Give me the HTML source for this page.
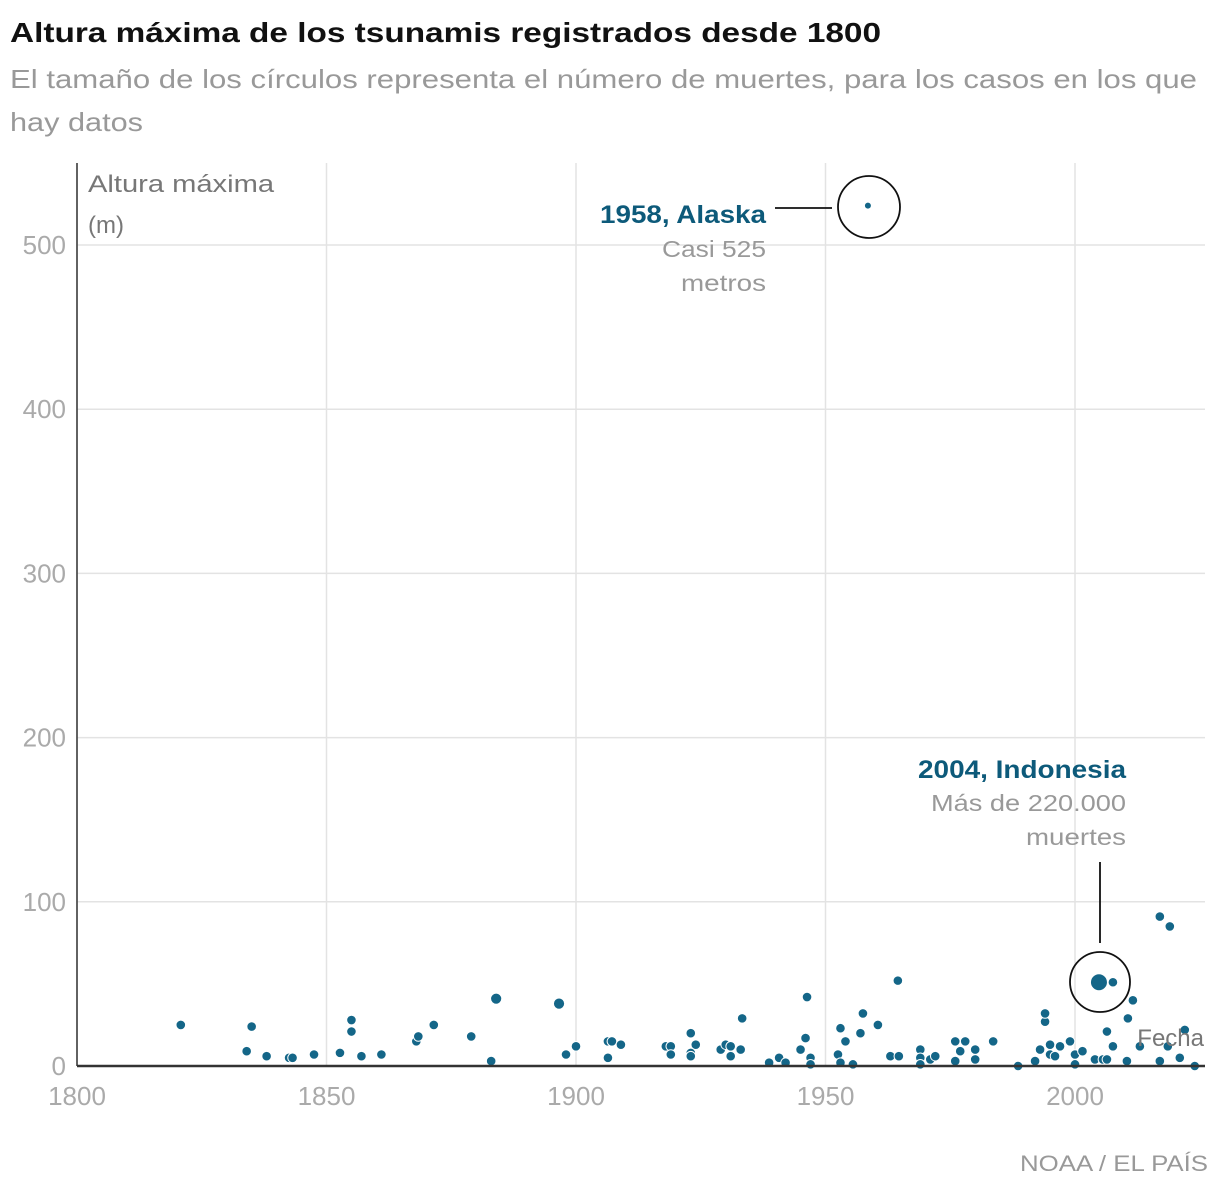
<!DOCTYPE html>
<html><head><meta charset="utf-8">
<style>
body{margin:0;background:#fff;width:1220px;height:1192px;overflow:hidden;font-family:"Liberation Sans",sans-serif}
svg{position:absolute;left:0;top:0}
</style></head>
<body>
<svg width="1220" height="1192">
<text x="10" y="42" font-size="28" font-weight="bold" fill="#111" textLength="871" lengthAdjust="spacingAndGlyphs">Altura máxima de los tsunamis registrados desde 1800</text>
<text x="10" y="88" font-size="26" fill="#999" textLength="1187" lengthAdjust="spacingAndGlyphs">El tamaño de los círculos representa el número de muertes, para los casos en los que</text>
<text x="10" y="131" font-size="26" fill="#999" textLength="133" lengthAdjust="spacingAndGlyphs">hay datos</text>
<g id="grid"></g>
<g id="marks"></g>
<line x1="77" y1="163" x2="77" y2="1066" stroke="#333" stroke-width="1.5"/>
<line x1="77" y1="1066" x2="1205" y2="1066" stroke="#333" stroke-width="2.5"/>
<text x="88" y="192" font-size="24" fill="#777" textLength="186" lengthAdjust="spacingAndGlyphs">Altura máxima</text>
<text x="88" y="233" font-size="24" fill="#777">(m)</text>
<text x="1204" y="1046" font-size="24" fill="#777" text-anchor="end">Fecha</text>
<circle cx="869" cy="207" r="31" fill="none" stroke="#111" stroke-width="1.8"/>
<line x1="775" y1="208" x2="832" y2="208" stroke="#111" stroke-width="1.8"/>
<text x="766" y="223" font-size="25" font-weight="bold" fill="#0d5a7a" text-anchor="end" textLength="166" lengthAdjust="spacingAndGlyphs">1958, Alaska</text>
<text x="766" y="257" font-size="23" fill="#999" text-anchor="end" textLength="104" lengthAdjust="spacingAndGlyphs">Casi 525</text>
<text x="766" y="291" font-size="23" fill="#999" text-anchor="end" textLength="85" lengthAdjust="spacingAndGlyphs">metros</text>
<text x="1126" y="778" font-size="25" font-weight="bold" fill="#0d5a7a" text-anchor="end" textLength="208" lengthAdjust="spacingAndGlyphs">2004, Indonesia</text>
<text x="1126" y="811" font-size="23" fill="#999" text-anchor="end" textLength="195" lengthAdjust="spacingAndGlyphs">Más de 220.000</text>
<text x="1126" y="845" font-size="23" fill="#999" text-anchor="end" textLength="100" lengthAdjust="spacingAndGlyphs">muertes</text>
<line x1="1100" y1="862" x2="1100" y2="943" stroke="#111" stroke-width="1.8"/>
<circle cx="1100" cy="982" r="30" fill="none" stroke="#111" stroke-width="1.8"/>
<text x="1208" y="1171" font-size="22" fill="#999" text-anchor="end" textLength="188" lengthAdjust="spacingAndGlyphs">NOAA / EL PAÍS</text>
</svg>
<script>
const xTicks=[1800,1850,1900,1950,2000];
const yTicks=[0,100,200,300,400,500];
const years=[1820.8,1835,1834,1838,1842.5,1843.2,1847.5,1852.7,1855,1855,
1857,1861,1868,1868.4,1871.5,1879,1883,1884,1896.6,1898,
1900,1906.4,1906.4,1907.2,1909,1918,1919,1919,1923,1924,
1923,1923,1929,1930,1931,1931,1933,1933.3,1938.7,1940.7,
1942,1945,1946,1946.3,1947,1947,1952.5,1953,1954,1953,
1955.5,1957,1957.5,1960.5,1964.5,1963,1964.7,1969,1969,1969,
1971,1972,1976,1978,1977,1976,1980,1980,1983.6,1988.6,
1992,1993,1994,1994,1995,1997,1995,1996,1999,2000,
2001.5,2000,2004,2005.6,2006.4,2007.6,2006.4,2010.6,2011.6,2007.6,
2010.4,2013,2017,2019,2017,2021,2024,2022,2018.6,1958.5,
2004.8];
const heights=[25,24,9,6,5,5,7,8,28,21,
6,7,15,18,25,18,3,41,38,7,
12,15,5,15,13,12,12,7,20,13,
8,6,10,13,12,6,10,29,2,5,
2,10,17,42,5,1,7,23,15,2,
1,20,32,25,52,6,6,10,5,1,
4,6,15,15,9,3,10,4,15,0,
3,10,27,32,13,12,7,6,15,7,
9,1,4,4,4,51,21,29,40,12,
3,12,91,85,3,5,0,22,12,524,
51];
// death-size category: 0 = no data/normal, 1 = large, 2 = huge, 3 = small
const deathClass=[0,0,0,0,0,0,0,0,0,0,
0,0,0,0,0,0,0,1,1,0,
0,0,0,0,0,0,0,0,0,0,
0,0,0,0,0,0,0,0,0,0,
0,0,0,0,0,0,0,0,0,0,
0,0,0,0,0,0,0,0,0,0,
0,0,0,0,0,0,0,0,0,0,
0,0,0,0,0,0,0,0,0,0,
0,0,0,0,0,0,0,0,0,0,
0,0,0,0,0,0,0,0,0,3,
2];
function xs(v){return 77+(v-1800)*4.99;}
function ys(v){return 1066-v*1.642;}
function rs(c){return c===2?8.5:c===1?5.6:c===3?3.5:4.8;}
const NS='http://www.w3.org/2000/svg';
const grid=document.getElementById('grid'),marks=document.getElementById('marks');
xTicks.forEach(t=>{
 const l=document.createElementNS(NS,'line');
 l.setAttribute('x1',xs(t));l.setAttribute('x2',xs(t));l.setAttribute('y1',163);l.setAttribute('y2',1066);
 l.setAttribute('stroke','#e3e3e3');l.setAttribute('stroke-width','1.5');
 
 
 grid.appendChild(l);
 const tx=document.createElementNS(NS,'text');
 tx.setAttribute('x',xs(t));tx.setAttribute('y',1105);tx.setAttribute('text-anchor','middle');
 tx.setAttribute('font-size','26');tx.setAttribute('fill','#aaa');tx.textContent=t;
 
 
 grid.appendChild(tx);
});
yTicks.forEach(t=>{
 if(t>0){const l=document.createElementNS(NS,'line');
 l.setAttribute('x1',77);l.setAttribute('x2',1205);l.setAttribute('y1',ys(t));l.setAttribute('y2',ys(t));
 l.setAttribute('stroke','#e3e3e3');l.setAttribute('stroke-width','1.5');
 
 
 grid.appendChild(l);}
 const tx=document.createElementNS(NS,'text');
 tx.setAttribute('x',66);tx.setAttribute('y',ys(t)+9);tx.setAttribute('text-anchor','end');
 tx.setAttribute('font-size','26');tx.setAttribute('fill','#aaa');tx.textContent=t;
 
 
 grid.appendChild(tx);
});
years.forEach((y,i)=>{
 const c=document.createElementNS(NS,'circle');
 c.setAttribute('cx',xs(y));c.setAttribute('cy',ys(heights[i]));c.setAttribute('r',rs(deathClass[i]));
 c.setAttribute('fill','#146688');c.setAttribute('stroke','#fff');c.setAttribute('stroke-width','1');
 
 
 marks.appendChild(c);
});
</script>
</body></html>
